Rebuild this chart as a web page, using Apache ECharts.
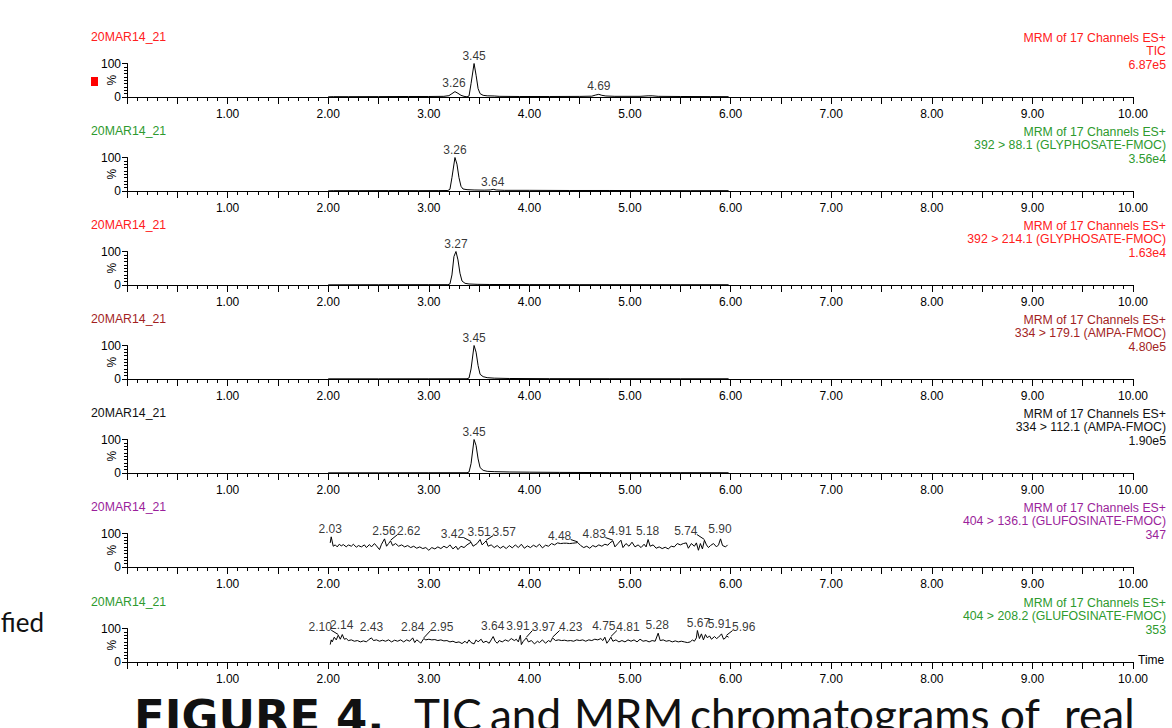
<!DOCTYPE html>
<html>
<head>
<meta charset="utf-8">
<script src="https://cdn.jsdelivr.net/npm/echarts@6/dist/echarts.min.js"></script>
<style>
html,body{margin:0;padding:0;background:#fff;overflow:hidden;}
#chart{width:1172px;height:728px;}
</style>
</head>
<body>
<div id="chart"></div>
<script>
// ---------- DATA ----------
var xTickLabels = ['1.00','2.00','3.00','4.00','5.00','6.00','7.00','8.00','9.00','10.00'];

var ticTrace = [[2.00,0.5],[2.05,1],[2.2,1],[2.5,1.2],[2.8,1.5],[3.0,1.5],[3.15,2],[3.20,4],[3.23,10],[3.26,16],[3.29,11],[3.32,5],[3.35,2],[3.38,0.5],[3.40,3],[3.42,40],[3.45,100],[3.47,65],[3.49,25],[3.51,10],[3.54,5],[3.58,3.5],[3.65,3],[3.7,2],[3.9,1.5],[4.2,1.5],[4.5,1.8],[4.62,2.5],[4.66,6],[4.69,8],[4.72,5],[4.76,3],[4.85,2],[5.1,2],[5.18,3.5],[5.22,3.5],[5.28,2],[5.5,1.5],[5.8,1.2],[5.98,1]];
var gly88Trace = [[2.00,0.5],[2.05,1],[2.3,1],[2.6,1.2],[2.9,1],[3.1,1.2],[3.19,1.5],[3.21,5],[3.23,40],[3.26,100],[3.28,80],[3.30,40],[3.32,14],[3.34,6],[3.38,4],[3.45,3],[3.55,2.5],[3.61,3],[3.64,5],[3.67,3],[3.75,2],[4.0,2],[4.4,1.5],[4.8,1.5],[5.2,1.2],[5.6,1],[5.98,1]];
var gly214Trace = [[2.00,0.5],[2.5,0.8],[3.0,1],[3.19,1],[3.21,3],[3.23,30],[3.25,85],[3.27,100],[3.29,75],[3.31,35],[3.33,12],[3.36,5],[3.40,3],[3.48,2],[3.6,1.5],[4.0,1.2],[4.5,1],[5.0,1],[5.5,0.8],[5.98,0.8]];
var ampa179Trace = [[2.00,0.5],[2.5,0.5],[3.0,0.6],[3.38,0.7],[3.40,3],[3.42,30],[3.45,100],[3.47,80],[3.49,40],[3.51,14],[3.54,7],[3.58,4],[3.65,2.5],[3.8,1.5],[4.2,1],[4.8,0.8],[5.5,0.7],[5.98,0.7]];
var ampa112Trace = [[2.00,0.5],[2.5,0.6],[3.0,0.7],[3.38,0.8],[3.40,3],[3.42,28],[3.45,100],[3.47,82],[3.49,42],[3.51,16],[3.54,8],[3.58,5],[3.65,4],[3.8,3],[4.0,2.5],[4.3,1.8],[4.8,1.2],[5.5,1],[5.98,0.8]];
var glu136Trace = [[2.02,72],[2.03,90],[2.05,62],[2.07,66],[2.09,60],[2.11,68],[2.13,63],[2.15,67],[2.18,60],[2.20,66],[2.23,62],[2.25,68],[2.28,59],[2.30,64],[2.33,60],[2.36,66],[2.38,58],[2.41,67],[2.43,60],[2.46,70],[2.48,63],[2.51,52],[2.53,68],[2.56,84],[2.58,62],[2.60,70],[2.62,78],[2.64,64],[2.67,70],[2.70,62],[2.73,66],[2.76,60],[2.79,64],[2.82,58],[2.85,62],[2.88,56],[2.91,60],[2.94,55],[2.97,58],[3.00,50],[3.03,58],[3.06,54],[3.09,60],[3.12,55],[3.15,62],[3.18,57],[3.21,66],[3.24,54],[3.27,62],[3.29,52],[3.32,62],[3.35,58],[3.38,66],[3.40,70],[3.42,74],[3.44,62],[3.46,66],[3.48,70],[3.51,82],[3.53,66],[3.55,72],[3.57,78],[3.59,62],[3.62,66],[3.65,58],[3.68,64],[3.71,56],[3.74,62],[3.77,55],[3.80,64],[3.83,57],[3.86,66],[3.89,58],[3.92,68],[3.95,56],[3.98,63],[4.01,58],[4.04,65],[4.07,60],[4.10,68],[4.13,57],[4.16,65],[4.19,62],[4.22,70],[4.25,66],[4.28,72],[4.31,70],[4.34,71],[4.37,71],[4.40,70],[4.43,71],[4.46,72],[4.48,73],[4.51,64],[4.54,58],[4.57,62],[4.60,56],[4.63,64],[4.66,60],[4.69,66],[4.72,62],[4.75,68],[4.78,65],[4.80,72],[4.83,78],[4.85,60],[4.88,70],[4.91,80],[4.93,58],[4.96,70],[4.99,62],[5.02,74],[5.05,60],[5.08,66],[5.11,58],[5.14,68],[5.16,60],[5.18,82],[5.20,62],[5.23,66],[5.26,56],[5.29,60],[5.32,55],[5.35,59],[5.38,54],[5.41,62],[5.44,60],[5.47,70],[5.50,66],[5.53,70],[5.56,72],[5.58,56],[5.61,70],[5.64,62],[5.66,72],[5.68,50],[5.70,70],[5.72,54],[5.74,80],[5.76,66],[5.78,58],[5.80,64],[5.83,70],[5.86,60],[5.88,66],[5.90,84],[5.92,64],[5.95,60],[5.97,66]];
var glu208Trace = [[2.02,52],[2.03,66],[2.04,60],[2.06,74],[2.08,66],[2.10,80],[2.12,68],[2.14,82],[2.16,68],[2.18,70],[2.20,64],[2.23,66],[2.26,62],[2.29,64],[2.32,60],[2.35,63],[2.38,60],[2.40,66],[2.43,72],[2.45,64],[2.48,66],[2.51,62],[2.54,65],[2.57,62],[2.60,66],[2.63,60],[2.66,65],[2.69,62],[2.72,66],[2.75,60],[2.78,66],[2.81,62],[2.84,72],[2.86,58],[2.88,66],[2.90,62],[2.92,56],[2.95,70],[2.97,66],[3.00,68],[3.03,66],[3.06,67],[3.09,64],[3.12,66],[3.15,63],[3.18,64],[3.21,60],[3.24,62],[3.27,58],[3.30,60],[3.33,55],[3.36,62],[3.38,56],[3.40,66],[3.42,58],[3.45,54],[3.47,66],[3.49,60],[3.52,68],[3.54,58],[3.57,62],[3.60,56],[3.62,66],[3.64,76],[3.66,62],[3.68,56],[3.70,64],[3.73,60],[3.76,66],[3.79,62],[3.82,70],[3.85,64],[3.87,68],[3.89,60],[3.91,80],[3.92,52],[3.94,62],[3.97,72],[3.99,60],[4.02,64],[4.05,54],[4.08,62],[4.10,58],[4.13,66],[4.16,56],[4.19,64],[4.21,60],[4.23,72],[4.26,64],[4.29,66],[4.32,64],[4.35,65],[4.38,63],[4.41,64],[4.44,62],[4.47,66],[4.50,64],[4.53,66],[4.56,62],[4.59,66],[4.62,64],[4.65,68],[4.68,66],[4.71,70],[4.73,64],[4.75,74],[4.77,56],[4.79,64],[4.81,74],[4.83,62],[4.86,66],[4.89,60],[4.92,64],[4.95,60],[4.98,66],[5.01,62],[5.04,66],[5.07,60],[5.10,68],[5.13,62],[5.16,64],[5.19,60],[5.22,64],[5.25,62],[5.28,86],[5.30,64],[5.33,66],[5.36,62],[5.39,64],[5.42,60],[5.45,63],[5.48,60],[5.51,62],[5.54,60],[5.57,58],[5.60,60],[5.62,66],[5.64,62],[5.66,72],[5.67,94],[5.69,70],[5.71,84],[5.73,66],[5.75,82],[5.77,72],[5.79,78],[5.81,68],[5.84,76],[5.86,70],[5.88,74],[5.91,84],[5.93,68],[5.95,72],[5.96,78],[5.98,74]];

// peak labels: [peak time, peak %, label time, label %, text]
var ticPeaks = [[3.26,16,3.25,43,'3.26'],[3.45,100,3.45,122,'3.45'],[4.69,8,4.69,33,'4.69']];
var gly88Peaks = [[3.26,100,3.26,122,'3.26'],[3.64,5,3.635,28,'3.64']];
var gly214Peaks = [[3.27,100,3.27,122,'3.27']];
var ampa179Peaks = [[3.45,100,3.45,122,'3.45']];
var ampa112Peaks = [[3.45,100,3.45,121,'3.45']];
var glu136Peaks = [[2.03,90,2.02,113,'2.03'],[2.56,84,2.555,107,'2.56'],[2.62,78,2.80,107,'2.62'],[3.42,74,3.235,98,'3.42'],[3.51,82,3.50,104,'3.51'],[3.57,78,3.75,104,'3.57'],[4.48,73,4.30,92,'4.48'],[4.83,78,4.645,98,'4.83'],[4.91,80,4.90,107,'4.91'],[5.18,82,5.175,107,'5.18'],[5.74,80,5.555,107,'5.74'],[5.90,84,5.895,113,'5.90']];
var glu208Peaks = [[2.10,80,1.92,105,'2.10'],[2.14,82,2.135,110,'2.14'],[2.43,72,2.43,104,'2.43'],[2.84,72,2.84,104,'2.84'],[2.95,70,3.128,104,'2.95'],[3.64,76,3.635,107,'3.64'],[3.91,80,3.887,107,'3.91'],[3.97,72,4.14,104,'3.97'],[4.23,72,4.41,104,'4.23'],[4.75,74,4.74,107,'4.75'],[4.81,74,4.98,104,'4.81'],[5.28,86,5.27,110,'5.28'],[5.67,94,5.68,117,'5.67'],[5.91,84,5.89,113,'5.91'],[5.96,78,6.13,104,'5.96']];

var sampleNames = ['20MAR14_21','20MAR14_21','20MAR14_21','20MAR14_21','20MAR14_21','20MAR14_21','20MAR14_21'];
var channelLine1 = ['MRM of 17 Channels ES+','MRM of 17 Channels ES+','MRM of 17 Channels ES+','MRM of 17 Channels ES+','MRM of 17 Channels ES+','MRM of 17 Channels ES+','MRM of 17 Channels ES+'];
var channelLine2 = ['TIC','392 > 88.1 (GLYPHOSATE-FMOC)','392 > 214.1 (GLYPHOSATE-FMOC)','334 > 179.1 (AMPA-FMOC)','334 > 112.1 (AMPA-FMOC)','404 > 136.1 (GLUFOSINATE-FMOC)','404 > 208.2 (GLUFOSINATE-FMOC)'];
var intensities = ['6.87e5','3.56e4','1.63e4','4.80e5','1.90e5','347','353'];
var captionBold = 'FIGURE 4.';
var captionWords = ['TIC','and','MRM','chromatograms','of','real'];
var sideText = 'fied';

// ---------- LAYOUT / STYLE ----------
var traces = [ticTrace, gly88Trace, gly214Trace, ampa179Trace, ampa112Trace, glu136Trace, glu208Trace];
var peaks = [ticPeaks, gly88Peaks, gly214Peaks, ampa179Peaks, ampa112Peaks, glu136Peaks, glu208Peaks];
var colors = ['#ff2020','#2e9a2e','#ff2020','#a31f1f','#111111','#9b1f9b','#2e9a2e'];
var axisYs = [97, 191, 285, 379, 473, 567, 662];
var captionX = [414, 490, 574, 690, 1000, 1064];
var plotH = 33.5, plotLeft = 127, plotW = 1006;
var FONT = '"Liberation Sans", Arial, sans-serif';

var chart = echarts.init(document.getElementById('chart'), null, {renderer: 'svg'});

var grids = [], xAxes = [], yAxes = [], series = [], graphics = [];
traces.forEach(function (tr, i) {
  var ay = axisYs[i];
  grids.push({left: plotLeft, top: ay - plotH, width: plotW, height: plotH});
  xAxes.push({
    type: 'value', gridIndex: i, min: 0, max: 10, interval: 0.5,
    axisLine: {show: true, onZero: false, lineStyle: {color: '#000', width: 1}},
    axisTick: {show: true, length: 7, lineStyle: {color: '#000'}},
    minorTick: {show: true, splitNumber: 5, length: 4, lineStyle: {color: '#000'}},
    splitLine: {show: false},
    axisLabel: {
      color: '#000', fontSize: 12, fontFamily: FONT, margin: 11,
      formatter: function (v) {
        var k = Math.round(v);
        return (Math.abs(v - k) < 1e-6 && k >= 1) ? xTickLabels[k - 1] : '';
      }
    }
  });
  yAxes.push({
    type: 'value', gridIndex: i, min: 0, max: 100, interval: 100,
    name: '%', nameLocation: 'middle', nameRotate: 90, nameGap: 9, nameMoveOverlap: false,
    nameTextStyle: {color: '#000', fontSize: 12, fontFamily: FONT},
    axisLine: {show: true, lineStyle: {color: '#000', width: 1}},
    axisTick: {show: true, length: 5, lineStyle: {color: '#000'}},
    minorTick: {show: true, splitNumber: 10, length: 3, lineStyle: {color: '#000'}},
    splitLine: {show: false},
    axisLabel: {color: '#000', fontSize: 12, fontFamily: FONT, margin: 6}
  });
  series.push({
    type: 'line', xAxisIndex: i, yAxisIndex: i, data: tr,
    showSymbol: false, symbol: 'none', animation: false, clip: false,
    lineStyle: {color: '#000', width: 1}
  });
  var pk = peaks[i];
  series.push({
    type: 'scatter', xAxisIndex: i, yAxisIndex: i, clip: false, animation: false,
    symbolSize: 0, silent: true,
    data: pk.map(function (p) { return [p[2], p[3], p[4]]; }),
    label: {show: true, position: 'inside', color: '#000', fontSize: 12, fontFamily: FONT,
      formatter: function (p) { return p.data[2]; }}
  });
  var leaders = [];
  pk.forEach(function (p) {
    var d = p[2] - p[0];
    if (Math.abs(d) > 0.08) {
      var sx = d > 0 ? p[2] - 0.11 : p[2] + 0.11;
      leaders.push({coords: [[sx, p[3] - 10], [p[0], p[1] + 2]]});
    }
  });
  if (leaders.length) {
    series.push({
      type: 'lines', coordinateSystem: 'cartesian2d', xAxisIndex: i, yAxisIndex: i,
      data: leaders, animation: false, silent: true,
      lineStyle: {color: '#000', width: 1, opacity: 1}
    });
  }
  graphics.push({type: 'text', left: 91, top: ay - 66, silent: true,
    style: {text: sampleNames[i], fill: colors[i], font: '12.3px ' + FONT}});
  [channelLine1[i], channelLine2[i], intensities[i]].forEach(function (t, j) {
    graphics.push({type: 'text', x: 1166, y: ay - 59 + j * 13.4, silent: true,
      style: {text: t, fill: colors[i], font: '12.3px ' + FONT, textAlign: 'right', textVerticalAlign: 'middle'}});
  });
});

graphics.push({type: 'rect', silent: true, shape: {x: 91, y: 77, width: 7, height: 9}, style: {fill: '#ff0000'}});
graphics.push({type: 'text', x: 1138, y: 660, silent: true,
  style: {text: 'Time', fill: '#000', font: '12px ' + FONT, textAlign: 'left', textVerticalAlign: 'middle'}});
graphics.push({type: 'text', x: 44, y: 622, silent: true,
  style: {text: sideText, fill: '#111', font: '26px Lato, sans-serif', textAlign: 'right', textVerticalAlign: 'middle'}});

graphics.push({type: 'text', x: 134, y: 716, silent: true,
  style: {text: captionBold, fill: '#111', font: 'bold 45px "DejaVu Sans", sans-serif', textAlign: 'left', textVerticalAlign: 'middle'}});
captionWords.forEach(function (w, k) {
  graphics.push({type: 'text', x: captionX[k], y: 714, silent: true,
    style: {text: w, fill: '#111', font: '44px Lato, sans-serif', textAlign: 'left', textVerticalAlign: 'middle'}});
});

chart.setOption({
  animation: false,
  backgroundColor: '#fff',
  grid: grids, xAxis: xAxes, yAxis: yAxes, series: series,
  graphic: graphics
});
</script>
</body>
</html>
